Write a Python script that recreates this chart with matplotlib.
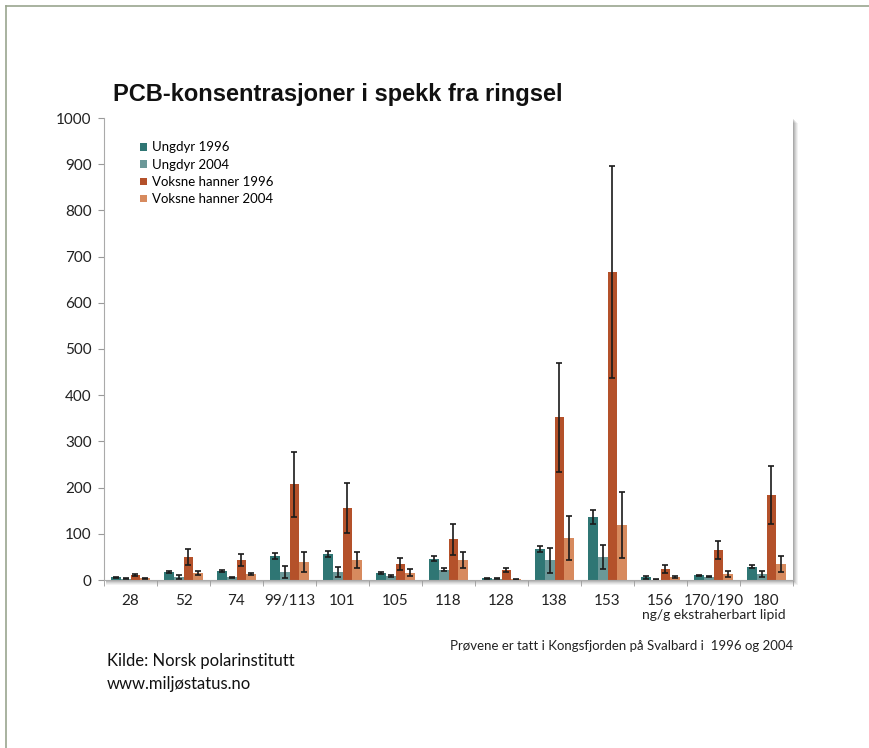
import numpy as np
import matplotlib.pyplot as plt
from matplotlib.patches import Rectangle

# PCB congeners on the x axis
kongener = ["28", "52", "74", "99/113", "101", "105", "118", "128",
            "138", "153", "156", "170/190", "180"]

# mean values (ng/g extractable lipid)
ungdyr_1996 = [6, 17, 20, 52, 56, 16, 46, 4, 67, 136, 6, 10, 29]
ungdyr_2004 = [3, 7, 6, 18, 17, 8, 22, 3, 43, 50, 1, 7, 13]
voksne_1996 = [10, 50, 43, 207, 156, 35, 88, 21, 352, 667, 24, 65, 184]
voksne_2004 = [4, 15, 13, 39, 43, 16, 43, 2, 91, 119, 6, 13, 35]

# error bars
ungdyr_1996_err = [1, 2, 2, 7, 7, 2, 5, 1, 6, 15, 3, 1, 4]
ungdyr_2004_err = [1, 4, 1, 13, 11, 2, 3, 1, 27, 26, 1, 1, 6]
voksne_1996_err = [2, 17, 13, 70, 54, 13, 33, 4, 118, 230, 8, 19, 63]
voksne_2004_err = [1, 5, 3, 21, 17, 8, 17, 1, 47, 72, 2, 7, 18]

series = [
    ("Ungdyr 1996", ungdyr_1996, ungdyr_1996_err, "#2f7674"),
    ("Ungdyr 2004", ungdyr_2004, ungdyr_2004_err, "#6b9898"),
    ("Voksne hanner 1996", voksne_1996, voksne_1996_err, "#b4512a"),
    ("Voksne hanner 2004", voksne_2004, voksne_2004_err, "#d78a5e"),
]

txt_font = ["Lato", "DejaVu Sans"]

fig = plt.figure(figsize=(8.69, 7.48), dpi=100)
fig.patch.set_facecolor("white")

# thin frame round the page (top and left edges)
fig.add_artist(plt.Line2D([6 / 869, 1], [1 - 6 / 748, 1 - 6 / 748],
                          color="#9aa58f", lw=1.2, transform=fig.transFigure))
fig.add_artist(plt.Line2D([6 / 869, 6 / 869], [0, 1 - 6 / 748],
                          color="#9aa58f", lw=1.2, transform=fig.transFigure))

left, bottom = 104 / 869, 1 - 580 / 748
width, height = 689 / 869, 462 / 748

# soft shadow behind the plot area
for k, a in enumerate([0.05, 0.06, 0.07, 0.09, 0.11]):
    off = (5 - k) / 869
    offy = (5 - k) / 748
    fig.add_artist(Rectangle((left + 2 / 869, bottom - offy), width + off - 2 / 869,
                             height, transform=fig.transFigure,
                             facecolor="black", alpha=a, edgecolor="none", zorder=0))

ax = fig.add_axes([left, bottom, width, height])
ax.set_facecolor("white")
ax.set_zorder(2)

x = np.arange(len(kongener)) + 0.5
bw = 0.18
for i, (name, vals, err, col) in enumerate(series):
    ax.bar(x + (i - 1.5) * bw, vals, bw, color=col, label=name,
           yerr=err, capsize=2.5,
           error_kw=dict(ecolor="#1a1a1a", elinewidth=1.2, capthick=1.2))

ax.set_xlim(0, len(kongener))
ax.set_ylim(0, 1000)
ax.set_yticks(np.arange(0, 1001, 100))
ax.set_xticks(x)
ax.set_xticklabels(kongener)
ax.set_xticks(np.arange(0, len(kongener) + 1), minor=True)
ax.tick_params(axis="x", which="major", length=0, pad=10)
ax.tick_params(axis="x", which="minor", length=4, color="#999999", direction="out")
ax.tick_params(axis="y", length=4, color="#999999", pad=5)
for lab in ax.get_xticklabels() + ax.get_yticklabels():
    lab.set_family(txt_font)
    lab.set_fontsize(11)
    lab.set_color("#222222")

for s in ["top", "right"]:
    ax.spines[s].set_visible(False)
ax.spines["left"].set_color("#aaaaaa")
ax.spines["bottom"].set_color("#aaaaaa")

leg = ax.legend(loc="upper left", bbox_to_anchor=(0.035, 0.975), frameon=False,
                prop={"family": txt_font, "size": 9.5}, handlelength=0.5,
                handleheight=0.5, handletextpad=0.4, labelspacing=0.4)

fig.text(113 / 869, 1 - 95 / 748, "PCB-konsentrasjoner i spekk fra ringsel",
         family=["Liberation Sans", "DejaVu Sans"], fontweight="bold",
         fontsize=17, va="center", ha="left", color="#111111")

fig.text(786 / 869, 1 - 615 / 748, "ng/g ekstraherbart lipid", family=txt_font,
         fontsize=10, ha="right", va="center", color="#222222")
fig.text(793 / 869, 1 - 646 / 748, "Prøvene er tatt i Kongsfjorden på Svalbard i  1996 og 2004",
         family=txt_font, fontsize=9.5, ha="right", va="center", color="#222222")
fig.text(107 / 869, 1 - 661 / 748, "Kilde: Norsk polarinstitutt", family=txt_font,
         fontsize=12, ha="left", va="center", color="#111111")
fig.text(107 / 869, 1 - 684 / 748, "www.miljøstatus.no", family=txt_font,
         fontsize=12, ha="left", va="center", color="#111111")

fig.savefig("out.png", dpi=100)
